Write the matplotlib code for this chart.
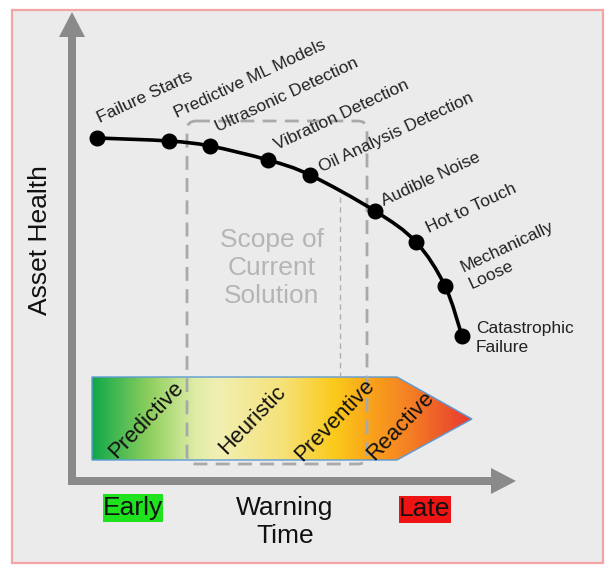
import matplotlib
matplotlib.use("Agg")
import matplotlib.pyplot as plt
import numpy as np
from matplotlib.path import Path
from matplotlib.patches import PathPatch, Polygon, Rectangle, FancyBboxPatch, FancyArrow
from matplotlib.colors import LinearSegmentedColormap

plt.rcParams['font.family'] = ['Liberation Sans', 'DejaVu Sans']

# data (diagram units = pixels, y grows downward)
stage_labels = ["Failure Starts", "Predictive ML Models", "Ultrasonic Detection",
                "Vibration Detection", "Oil Analysis Detection", "Audible Noise",
                "Hot to Touch", "Mechanically\nLoose", "Catastrophic\nFailure"]
warning_x = [97, 169, 210, 268, 310, 375, 416, 445, 462]
health_y = [138, 141, 146, 160, 175, 211, 242, 286, 336]
label_dx = [3, 8, 8, 9, 12, 9, 13, 25, 14]
label_dy = [-15, -23, -14, -10, -3, -5, -9, 0, 2]

bands = ["Predictive", "Heuristic", "Preventive", "Reactive"]
band_x = [146, 252, 335, 400]
band_y = [420, 420, 420, 426]

grad_pos = [0.0, 0.15, 0.27, 0.33, 0.5, 0.64, 0.74, 0.84, 1.0]
grad_col = ["#12a84a", "#8fcf5e", "#dfeca6", "#f1efb3", "#f5e27a",
            "#fbca1a", "#f9a11b", "#f47f25", "#e8392f"]

fig = plt.figure(figsize=(6.08, 5.67), dpi=100)
ax = fig.add_axes([0, 0, 1, 1])
ax.set_xlim(0, 608)
ax.set_ylim(567, 0)
ax.axis('off')

# frame
ax.add_patch(Rectangle((12, 10), 591, 553, facecolor="#ebebeb",
                       edgecolor="#f3a5a5", lw=1.6, zorder=0))

# axes arrows
grey = "#8a8a8a"
ax.add_patch(FancyArrow(72, 482, 0, -445, width=8, head_width=26, head_length=25,
                        length_includes_head=False, color=grey, lw=0, zorder=1))
ax.add_patch(FancyArrow(68, 481, 423, 0, width=8, head_width=26, head_length=25,
                        length_includes_head=False, color=grey, lw=0, zorder=1))

# gradient arrow bar
shape = [(92, 377), (397, 377), (472, 419), (397, 460), (92, 460)]
poly = Polygon(shape, closed=True, facecolor="none", edgecolor="#5b9bd5", lw=1, zorder=3)
ax.add_patch(poly)
cmap = LinearSegmentedColormap.from_list("warn", list(zip(grad_pos, grad_col)))
grad = np.linspace(0, 1, 400).reshape(1, -1)
im = ax.imshow(grad, cmap=cmap, extent=(92, 472, 460, 377), aspect='auto', zorder=2)
im.set_clip_path(poly)
ax.set_xlim(0, 608)
ax.set_ylim(567, 0)

for b, bx, by in zip(bands, band_x, band_y):
    ax.text(bx, by, b, rotation=46, ha='center', va='center', fontsize=16,
            color="#111111", zorder=6)

# scope box
box = FancyBboxPatch((187, 121), 180, 343, boxstyle="round,pad=0,rounding_size=9",
                     facecolor="none", edgecolor="#a9a9a9", lw=2, linestyle=(0, (5, 3)),
                     zorder=4)
ax.add_patch(box)
ax.plot([340, 340], [197, 377], color="#b0b0b0", lw=1, linestyle=(0, (4, 3)), zorder=4)
ax.text(272, 268, "Scope of\nCurrent\nSolution", ha='center', va='center',
        fontsize=19, color="#b5b5b5", linespacing=1.2, zorder=4)

# curve (Catmull-Rom through the points, as bezier path)
pts = np.column_stack([warning_x, health_y]).astype(float)
verts = [tuple(pts[0])]
codes = [Path.MOVETO]
for i in range(len(pts) - 1):
    p0 = pts[i - 1] if i > 0 else pts[i]
    p1, p2 = pts[i], pts[i + 1]
    p3 = pts[i + 2] if i + 2 < len(pts) else pts[i + 1]
    c1 = p1 + (p2 - p0) / 6
    c2 = p2 - (p3 - p1) / 6
    verts += [tuple(c1), tuple(c2), tuple(p2)]
    codes += [Path.CURVE4] * 3
ax.add_patch(PathPatch(Path(verts, codes), facecolor="none", edgecolor="black",
                       lw=2.6, capstyle='round', zorder=7))
ax.plot(warning_x, health_y, 'o', color="black", ms=10.5, zorder=8)

for i, lab in enumerate(stage_labels):
    if i == len(stage_labels) - 1:
        ax.text(warning_x[i] + label_dx[i], health_y[i] + label_dy[i], lab,
                ha='left', va='center', fontsize=12.5, color="#222222",
                linespacing=1.3, zorder=8)
    else:
        ax.text(warning_x[i] + label_dx[i], health_y[i] + label_dy[i], lab,
                rotation=25, rotation_mode='anchor', ha='left', va='baseline',
                fontsize=12.5, color="#222222", linespacing=1.25, zorder=8)

# axis titles
ax.text(40, 240, "Asset Health", rotation=90, ha='center', va='center',
        fontsize=19, color="#111111")
ax.text(285, 522, "Warning\nTime", ha='center', va='center', fontsize=19,
        color="#111111", linespacing=1.2)

ax.add_patch(Rectangle((103, 494), 60, 28, facecolor="#1ee31e", edgecolor="none"))
ax.text(133, 508, "Early", ha='center', va='center', fontsize=19, color="#111111")
ax.add_patch(Rectangle((399, 496), 52, 27, facecolor="#ee1414", edgecolor="none"))
ax.text(425, 509.5, "Late", ha='center', va='center', fontsize=19, color="#111111")

fig.savefig("out.png", dpi=100, facecolor="white")
